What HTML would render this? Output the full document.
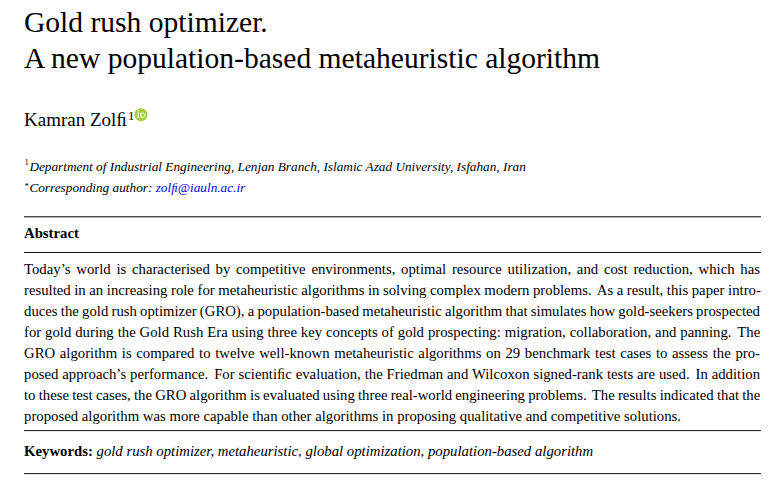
<!DOCTYPE html>
<html><head><meta charset="utf-8">
<style>
html,body{margin:0;padding:0;background:#fff;}
body{width:784px;height:481px;overflow:hidden;position:relative;font-family:"Liberation Serif",serif;color:#000;}
.a{position:absolute;white-space:nowrap;line-height:1;}
.j{position:absolute;width:736px;line-height:1;white-space:nowrap;text-align:justify;text-align-last:justify;}
.r{position:absolute;left:24px;width:736.5px;height:1px;}
.sup1{font-size:12.8px;position:relative;top:-6px;margin-left:1px;}
.s{font-style:normal;font-size:8.6px;position:relative;top:-5.6px;margin-right:0.6px;}
.st{font-style:normal;font-size:8.6px;position:relative;top:-3.3px;margin-right:0.6px;}
</style></head><body>
<div class="a" style="left:24px;top:8.25px;font-size:29.56px;">Gold rush optimizer.</div>
<div class="a" style="left:24px;top:44.25px;font-size:29.56px;">A new population-based metaheuristic algorithm</div>
<div class="a" style="left:24px;top:110.09px;font-size:19.0px;">Kamran Zolﬁ<span class="sup1">1</span></div>
<div class="a" style="left:24.5px;top:159.88px;font-size:13.28px;font-style:italic"><span class="s">1</span>Department of Industrial Engineering, Lenjan Branch, Islamic Azad University, Isfahan, Iran</div>
<div class="a" style="left:24.5px;top:180.88px;font-size:13.28px;font-style:italic"><span class="st">*</span>Corresponding author: <span style="color:#00f">zolﬁ@iauln.ac.ir</span></div>
<div class="a" style="left:24px;top:225.65px;font-size:14.75px;"><b>Abstract</b></div>
<div class="a" style="left:24px;top:261.65px;font-size:14.75px;word-spacing:2.058px">Today’s world is characterised by competitive environments, optimal resource utilization, and cost reduction, which has</div>
<div class="a" style="left:24px;top:282.65px;font-size:14.75px;word-spacing:-0.116px">resulted in an increasing role for metaheuristic algorithms in solving complex modern problems.<span style="word-spacing:1.461px"> </span>As a result, this paper intro-</div>
<div class="a" style="left:24px;top:303.65px;font-size:14.75px;word-spacing:-0.474px">duces the gold rush optimizer (GRO), a population-based metaheuristic algorithm that simulates how gold-seekers prospected</div>
<div class="a" style="left:24px;top:324.65px;font-size:14.75px;word-spacing:0.220px">for gold during the Gold Rush Era using three key concepts of gold prospecting: migration, collaboration, and panning.<span style="word-spacing:2.159px"> </span>The</div>
<div class="a" style="left:24px;top:345.65px;font-size:14.75px;word-spacing:0.958px">GRO algorithm is compared to twelve well-known metaheuristic algorithms on 29 benchmark test cases to assess the pro-</div>
<div class="a" style="left:24px;top:366.65px;font-size:14.75px;word-spacing:0.207px">posed approach’s performance.<span style="word-spacing:2.122px"> </span>For scientiﬁc evaluation, the Friedman and Wilcoxon signed-rank tests are used.<span style="word-spacing:2.122px"> </span>In addition</div>
<div class="a" style="left:24px;top:387.65px;font-size:14.75px;word-spacing:-0.477px">to these test cases, the GRO algorithm is evaluated using three real-world engineering problems.<span style="word-spacing:1.341px"> </span>The results indicated that the</div>
<div class="a" style="left:24px;top:408.65px;font-size:14.75px;">proposed algorithm was more capable than other algorithms in proposing qualitative and competitive solutions.</div>
<div class="a" style="left:24px;top:443.65px;font-size:14.75px;"><b>Keywords:</b> <i>gold rush optimizer, metaheuristic, global optimization, population-based algorithm</i></div>
<div class="r" style="top:216px;background:#4a4a4a"></div>
<div class="r" style="top:217px;background:#b4b4b4"></div>
<div class="r" style="top:252px;background:#111"></div>
<div class="r" style="top:430px;background:#2a2a2a"></div>
<div class="r" style="top:431px;background:#e6e6e6"></div>
<div class="r" style="top:473px;background:#2a2a2a"></div>
<div class="r" style="top:474px;background:#e6e6e6"></div>
<svg style="position:absolute;left:134.2px;top:107.6px" width="15" height="15" viewBox="0 0 15 15"><circle cx="7" cy="6.7" r="6.5" fill="#a6ce39"/><rect x="3.65" y="4.5" width="1.15" height="5.3" fill="#fff"/><circle cx="4.22" cy="2.7" r="0.68" fill="#fff"/><path d="M6.95 5H8.5C10 5 10.85 6 10.85 7.15C10.85 8.3 10 9.3 8.5 9.3H6.95Z" fill="none" stroke="#fff" stroke-width="1"/></svg>
</body></html>
